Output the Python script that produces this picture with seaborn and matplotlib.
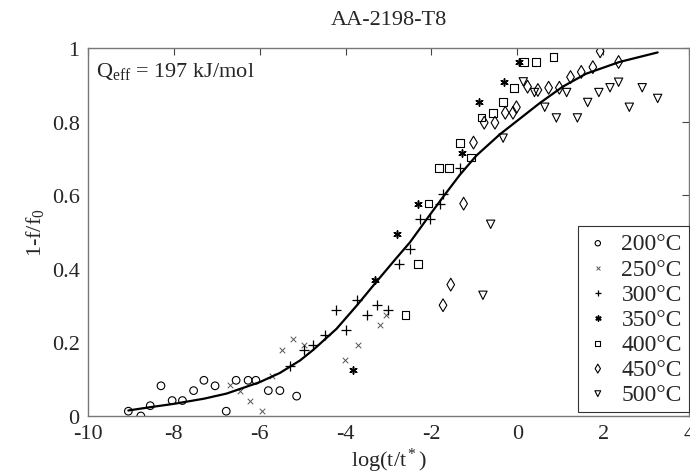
import matplotlib
matplotlib.use("Agg")
import matplotlib.pyplot as plt
import seaborn as sns

# ---- data ----
x200 = [-9.06, -8.77, -8.55, -8.30, -8.04, -7.80, -7.54, -7.30, -7.04, -6.78, -6.55, -6.27, -6.09, -5.80, -5.53, -5.14]
y200 = [0.013, 0.0, 0.028, 0.082, 0.042, 0.042, 0.069, 0.097, 0.082, 0.013, 0.097, 0.097, 0.097, 0.069, 0.069, 0.054]

x250 = [-6.69, -6.46, -6.23, -5.95, -5.72, -5.47, -5.22, -4.97, -4.02, -3.71, -3.20, -3.06]
y250 = [0.083, 0.069, 0.041, 0.014, 0.110, 0.178, 0.208, 0.192, 0.151, 0.192, 0.246, 0.275]

x300 = [-5.30, -4.97, -4.75, -4.48, -4.23, -3.99, -3.74, -3.51, -3.26, -3.01, -2.75, -2.50, -2.26, -2.04, -1.81, -1.73, -1.34]
y300 = [0.137, 0.178, 0.192, 0.219, 0.288, 0.234, 0.314, 0.274, 0.302, 0.288, 0.414, 0.455, 0.536, 0.536, 0.577, 0.604, 0.673]

x350 = [-3.82, -3.32, -2.80, -2.31, -1.29, -0.89, -0.31, 0.04]
y350 = [0.124, 0.370, 0.495, 0.577, 0.716, 0.853, 0.908, 0.962]

x400 = [-2.60, -2.31, -2.07, -1.82, -1.59, -1.34, -1.08, -0.83, -0.57, -0.33, -0.08, 0.15, 0.44, 0.84]
y400 = [0.275, 0.413, 0.577, 0.674, 0.674, 0.742, 0.702, 0.811, 0.824, 0.853, 0.892, 0.962, 0.962, 0.975]

x450 = [-1.73, -1.55, -1.25, -1.02, -0.77, -0.52, -0.28, -0.10, -0.02, 0.24, 0.48, 0.73, 0.98, 1.24, 1.49, 1.76, 1.93, 2.36]
y450 = [0.301, 0.357, 0.577, 0.743, 0.797, 0.797, 0.824, 0.824, 0.839, 0.895, 0.886, 0.892, 0.892, 0.921, 0.935, 0.948, 0.991, 0.962]

x500 = [-0.80, -0.62, -0.33, 0.14, 0.40, 0.64, 0.91, 1.15, 1.40, 1.64, 1.90, 2.16, 2.36, 2.61, 2.91, 3.27]
y500 = [0.328, 0.521, 0.755, 0.908, 0.879, 0.839, 0.810, 0.879, 0.810, 0.852, 0.879, 0.892, 0.907, 0.839, 0.892, 0.863]

curve_x = [-9.06, -8.55, -8.0, -7.3, -6.77, -6.0, -5.53, -5.06, -4.75, -4.21, -3.74, -3.28, -2.81,
           -2.5, -2.04, -1.73, -1.34, -0.95, -0.41, 0.05, 0.52, 1.06, 1.6, 2.38, 3.27]
curve_y = [0.015, 0.024, 0.033, 0.047, 0.061, 0.092, 0.117, 0.151, 0.180, 0.237, 0.300, 0.365, 0.430,
           0.472, 0.546, 0.595, 0.655, 0.708, 0.765, 0.807, 0.850, 0.895, 0.930, 0.962, 0.988]

labels = ["200°C", "250°C", "300°C", "350°C", "400°C", "450°C", "500°C"]
xticks = [-10, -8, -6, -4, -2, 0, 2, 4]
yticks = [0, 0.2, 0.4, 0.6, 0.8, 1]
ytick_labels = ["0", "0.2", "0.4", "0.6", "0.8", "1"]

# ---- style ----
sns.set_style("white")
plt.rcParams["font.family"] = ["Liberation Serif", "DejaVu Serif"]
plt.rcParams["mathtext.fontset"] = "custom"
plt.rcParams["mathtext.rm"] = "Liberation Serif"
plt.rcParams["mathtext.it"] = "Liberation Serif:italic"
plt.rcParams["mathtext.bf"] = "Liberation Serif:bold"

fig = plt.figure(figsize=(6.9, 4.77), dpi=100)
ax = fig.add_axes([88 / 690, 1 - 417 / 477, (689 - 88) / 690, (417 - 49) / 477])

series = [
    (x200, y200, "o", True, 5.5, 0.8),
    (x250, y250, "x", False, 4.0, 0.7),
    (x300, y300, "+", False, 7.0, 0.9),
    (x350, y350, (6, 2, 0), False, 5.2, 1.1),
    (x400, y400, "s", True, 5.5, 0.8),
    (x450, y450, "d", True, 6.5, 0.8),
    (x500, y500, "v", True, 6.0, 0.8),
]

for (xs, ys, mk, opn, ms, lw), lab in zip(series, labels):
    s = ms ** 2
    if opn:
        sns.scatterplot(x=xs, y=ys, marker=mk, s=s, facecolors="none",
                        edgecolor="black", linewidth=lw, ax=ax, label=lab)
    else:
        col = "#555555" if mk == "x" else "black"
        sns.scatterplot(x=xs, y=ys, marker=mk, s=s, color=col,
                        linewidth=lw, ax=ax, label=lab)

sns.lineplot(x=curve_x, y=curve_y, color="black", linewidth=1.6, sort=False,
             estimator=None, ax=ax, legend=False)

ax.set_xlim(-10, 4)
ax.set_ylim(0, 1)
ax.set_xticks(xticks)
ax.set_xticklabels([str(t) for t in xticks])
ax.set_yticks(yticks)
ax.set_yticklabels(ytick_labels)
ax.tick_params(direction="in", length=5, width=0.8, color="#444444",
               top=True, right=True, labelsize=16, pad=6)
for sp in ax.spines.values():
    sp.set_color("#777777")
    sp.set_linewidth(1.0)

ax.set_title("AA-2198-T8", fontsize=16, pad=17)
ax.set_xlabel("log(t/t$^*$)", fontsize=16, labelpad=2)
ax.set_ylabel("1-f/f$_0$", fontsize=16, labelpad=4)
ax.text(0.013, 0.94, "Q$_\\mathrm{eff}$ = 197 kJ/mol", transform=ax.transAxes,
        fontsize=16, va="center", ha="left")

leg = ax.legend(loc="lower right", bbox_to_anchor=(1.0, 0.011), fontsize=17,
                frameon=True, fancybox=False, edgecolor="#333333", framealpha=1,
                labelspacing=0.15, handletextpad=0.45, borderpad=0.3,
                handlelength=1.1, markerscale=0.7, borderaxespad=0)
leg.get_frame().set_linewidth(0.8)

fig.savefig("out.png", dpi=100)
